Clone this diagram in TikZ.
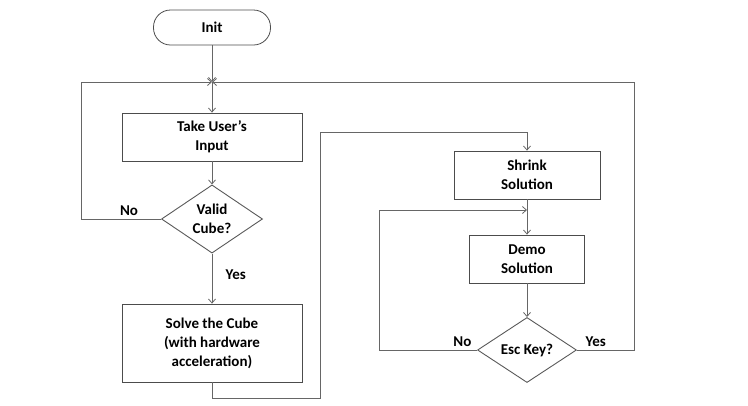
\documentclass[tikz,border=0pt]{standalone}
\usepackage{fontspec}
\setmainfont{Carlito}
\usepackage{tikz}
\usetikzlibrary{arrows,arrows.meta,positioning,calc,shapes}

\begin{document}
\begin{tikzpicture}[x=1pt,y=-1pt,>={Straight Barb[length=4pt,width=7pt]},
  font=\fontsize{15}{19}\selectfont\bfseries,
  line/.style={draw=black!60,line width=0.8pt},
  flow/.style={line,->},
  procbox/.style={draw=black!70,line width=0.8pt,align=center,inner sep=0pt},
  decision/.style={diamond,draw=black!65,line width=0.9pt,align=center,inner sep=0pt}]
\useasboundingbox (0,0) rectangle (748,405);

% Input side
\node[procbox,rounded corners=17pt,minimum width=117pt,minimum height=35pt] (init) at (212,27.5) {Init};
\coordinate (join) at (212,82);
\node[procbox,minimum width=180pt,minimum height=48pt] (input) at (212,137) {Take User's\\Input};
\node[decision,minimum width=101pt,minimum height=62pt] (valid) at (212,219) {Valid\\Cube?};
\node[procbox,minimum width=180pt,minimum height=78pt] (solve) at (212,343) {Solve the Cube\\(with hardware\\acceleration)};

% Demo side
\node[procbox,minimum width=146pt,minimum height=48pt] (shrink) at (527,175) {Shrink\\Solution};
\coordinate (demoin) at (527,210);
\node[procbox,minimum width=115pt,minimum height=48pt] (demo) at (527,259) {Demo\\Solution};
\node[decision,minimum width=99pt,minimum height=62pt] (esc) at (527,350) {Esc Key?};

% Connectors
\draw[flow] (init) -- (join);
\draw[flow] (join) -- (input);
\draw[flow] (input) -- (valid);
\draw[flow] (valid) -- node[right=10pt,pos=0.42] {Yes} (solve);
\draw[flow] (valid.west) -- node[above,pos=0.4] {No} ++(-80,0) |- (join);
\draw[flow] (solve.south) -- ++(0,16) -| (320,132) -| (shrink.north);
\draw[flow] (shrink) -- (demo);
\draw[flow] (demo) -- (esc);
\draw[flow] (esc.west) -- node[above,pos=0.15] {No} ++(-98,0) |- (demoin);
\draw[flow] (esc.east) -- node[above,pos=0.33] {Yes} ++(57,0) |- (join);
\end{tikzpicture}
\end{document}
